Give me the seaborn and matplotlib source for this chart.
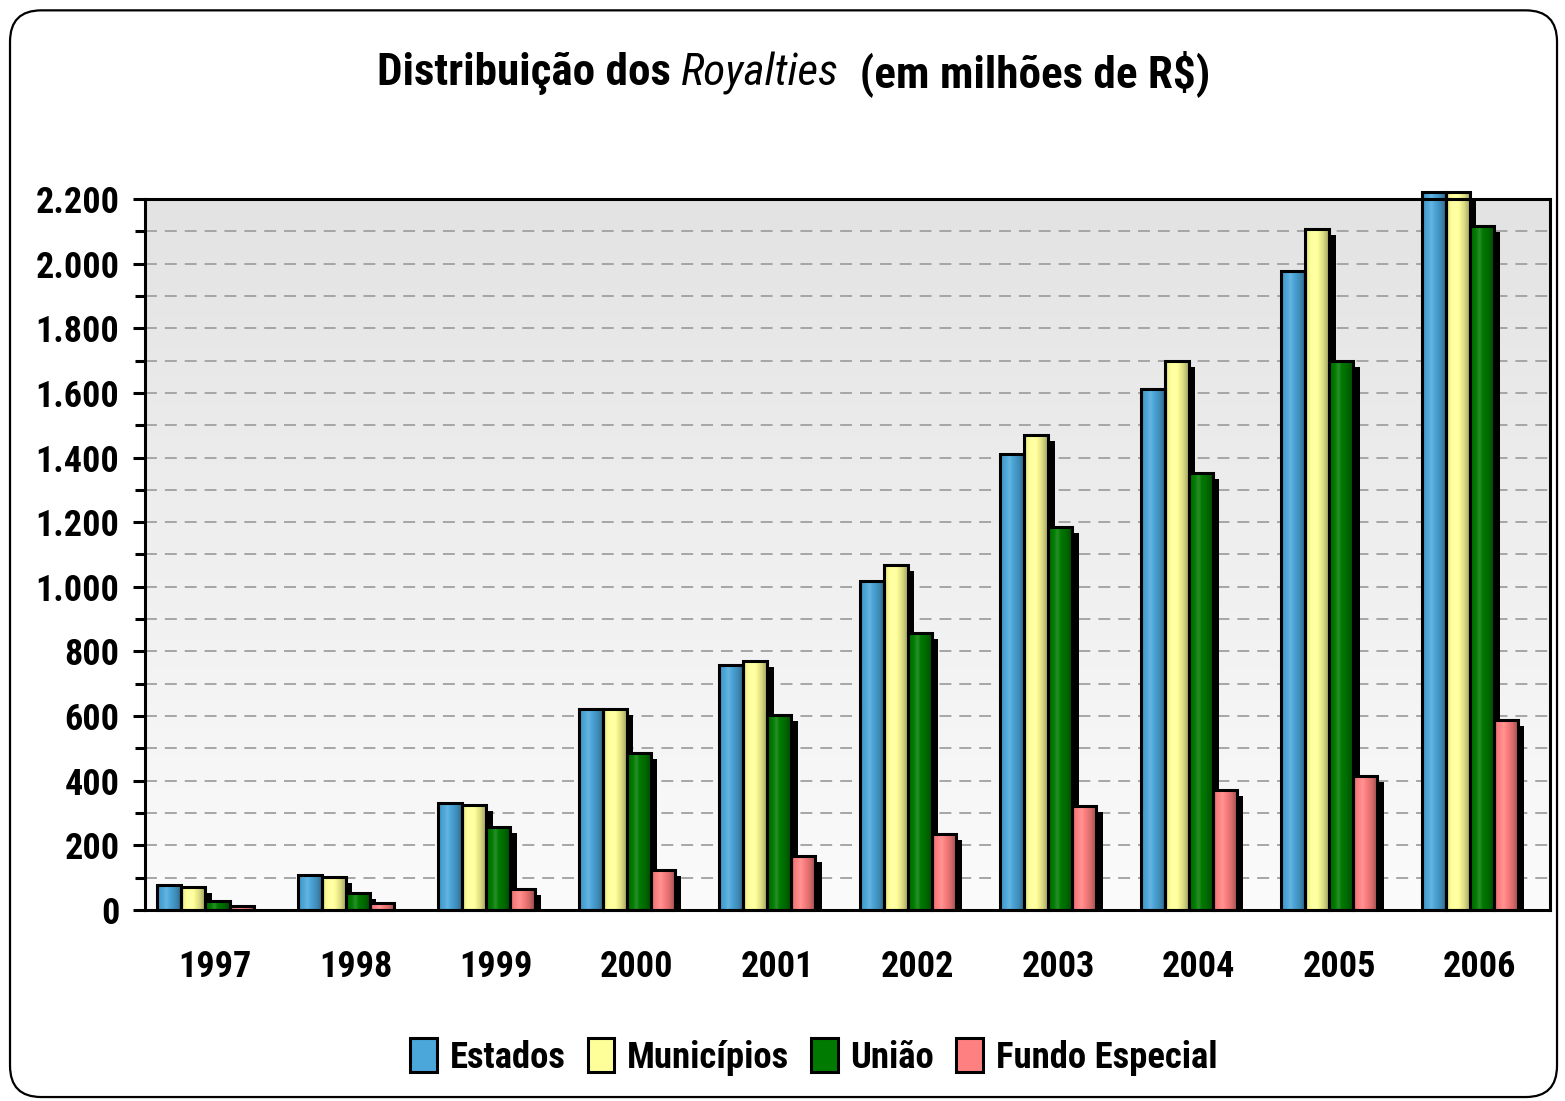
import numpy as np
import pandas as pd
import matplotlib
matplotlib.use("Agg")
import matplotlib.pyplot as plt
import seaborn as sns
from matplotlib import font_manager
from matplotlib.patches import Rectangle, Patch, FancyBboxPatch
from matplotlib.ticker import FuncFormatter, MultipleLocator, FixedLocator
from matplotlib.colors import to_rgb

# ---------------- data ----------------
years = ["1997", "1998", "1999", "2000", "2001", "2002", "2003", "2004", "2005", "2006"]
estados = [77, 108, 332, 623, 758, 1019, 1410, 1612, 1978, 2220]
municipios = [70, 101, 326, 623, 771, 1068, 1470, 1700, 2108, 2220]
uniao = [29, 54, 258, 487, 602, 856, 1184, 1353, 1700, 2116]
fundo = [13, 23, 66, 124, 167, 235, 322, 371, 415, 588]
series_names = ["Estados", "Municípios", "União", "Fundo Especial"]
colors = ["#4ba6d9", "#ffff99", "#007a00", "#ff8080"]
y_major = [0, 200, 400, 600, 800, 1000, 1200, 1400, 1600, 1800, 2000, 2200]

# ---------------- style ----------------
sns.set_theme(style="white")
entries = font_manager.fontManager.ttflist
names = {f.name for f in entries}
narrow_cands = ["Liberation Sans Narrow", "Arial Narrow", "Roboto Condensed",
                "Open Sans Condensed", "Noto Sans Condensed"]
FONT = next((c for c in narrow_cands if c in names), None)
STRETCH = "normal"
if FONT is None:
    cond = [f.name for f in entries
            if f.name in ("Liberation Sans", "Roboto", "Open Sans", "Noto Sans")
            and str(f.stretch) in ("condensed", "semi-condensed")]
    if cond:
        FONT = cond[0]
        STRETCH = "condensed"
if FONT is None:
    FONT = "Liberation Sans"
    SCALE = 0.86
else:
    SCALE = 1.0
plt.rcParams["font.family"] = [FONT, "DejaVu Sans"]
plt.rcParams["font.stretch"] = STRETCH
plt.rcParams["text.color"] = "black"

TICK_FS = 26 * SCALE
TITLE_FS = 32.5 * SCALE
LEG_FS = 26.5 * SCALE * (0.92 if SCALE < 1 else 1.0)
LEG_WEIGHT = "bold" if SCALE == 1.0 else "normal"

df = pd.DataFrame({
    "Ano": years * 4,
    "Série": np.repeat(series_names, len(years)),
    "Valor": estados + municipios + uniao + fundo,
})

fig = plt.figure(figsize=(15.65, 11.01), dpi=100)
fig.patch.set_facecolor("white")
ax = fig.add_axes([0.0927, 0.1735, 0.8977, 0.6458])

sns.barplot(data=df, x="Ano", y="Valor", hue="Série", hue_order=series_names,
            palette=colors, width=0.684, saturation=1, errorbar=None,
            legend=False, ax=ax)


def grad_img(col, n=64):
    base = np.array(to_rgb(col))
    t = np.linspace(0, 1, n)
    f = np.interp(t, [0, 0.12, 0.38, 0.75, 1.0], [0.78, 0.95, 1.08, 0.85, 0.6])[:, None]
    dark = base * f
    light = base + (1 - base) * (f - 1) * 2.0
    out = np.where(f <= 1, dark, light)
    return np.clip(out, 0, 1)[None, :, :]


shift = -0.07
dx = 0.045
dy = 18.6
for container, col in zip(ax.containers, colors):
    img = grad_img(col)
    for bar in container:
        x = bar.get_x() + shift
        w = bar.get_width()
        h = bar.get_height()
        bar.set_x(x)
        bar.set_facecolor("none")
        bar.set_edgecolor("black")
        bar.set_linewidth(2.2)
        bar.set_zorder(4)
        bar.set_clip_on(False)
        if h - dy > 0:
            ax.add_patch(Rectangle((x + dx, 0), w, h - dy, facecolor="black",
                                   edgecolor="none", zorder=2, clip_on=False))
        im = ax.imshow(img, extent=(x, x + w, 0, h), aspect="auto", zorder=3,
                       interpolation="bilinear")
        im.set_clip_on(False)

# background gradient of plot area
bg = np.linspace(0.89, 0.985, 256)[:, None] * np.ones((1, 2))
bg_rgb = np.dstack([bg, bg, bg])
ax.imshow(bg_rgb, extent=(0, 1, 0, 1), transform=ax.transAxes, aspect="auto",
          zorder=0, interpolation="bilinear", origin="upper")

ax.set_xlim(-0.5, 9.5)
ax.set_ylim(0, 2200)

# grid & ticks
ax.yaxis.set_major_locator(FixedLocator(y_major))
ax.yaxis.set_minor_locator(MultipleLocator(100))
ax.yaxis.set_major_formatter(FuncFormatter(lambda v, p: f"{v:,.0f}".replace(",", ".")))
ax.grid(which="both", axis="y", color="#a0a0a0", linestyle=(0, (6.6, 4.4)), linewidth=1.3)
ax.grid(False, axis="x")
ax.set_axisbelow(True)
ax.tick_params(axis="y", which="major", direction="out", length=8.5, width=2.2,
               color="black", labelsize=TICK_FS, pad=10, left=True, labelcolor="black")
ax.tick_params(axis="y", which="minor", direction="out", length=7, width=2.2,
               color="black", left=True)
ax.tick_params(axis="x", length=0, labelsize=TICK_FS, pad=28, labelcolor="black")
for lab in ax.get_xticklabels() + ax.get_yticklabels():
    lab.set_fontweight("bold")
for sp in ax.spines.values():
    sp.set_visible(True)
    sp.set_color("black")
    sp.set_linewidth(2.2)
    sp.set_zorder(5)
ax.set_xlabel("")
ax.set_ylabel("")

# title in mixed styles
parts = [("Distribuição dos ", "bold", "normal"),
         ("Royalties", "normal", "italic"),
         ("  (em milhões de R$)", "bold", "normal")]
fig.canvas.draw()
renderer = fig.canvas.get_renderer()
texts = []
widths = []
for s, wgt, sty in parts:
    t = fig.text(0, 0.933, s, fontsize=TITLE_FS, fontweight=wgt, fontstyle=sty,
                 ha="left", va="center", color="black")
    bb = t.get_window_extent(renderer)
    texts.append(t)
    widths.append(bb.width / fig.bbox.width)
total = sum(widths)
xpos = 0.507 - total / 2
for t, wd in zip(texts, widths):
    t.set_x(xpos)
    xpos += wd

# legend
handles = [Patch(facecolor=c, edgecolor="black", linewidth=2.2) for c in colors]
leg = fig.legend(handles, series_names, loc="center", bbox_to_anchor=(0.52, 0.04), ncol=4,
                 frameon=False,
                 prop={"size": LEG_FS, "weight": LEG_WEIGHT, "family": [FONT, "DejaVu Sans"]},
                 handlelength=0.72, handleheight=1.05, handletextpad=0.35, columnspacing=0.6)
for txt in leg.get_texts():
    txt.set_color("black")

# rounded border
border = FancyBboxPatch((0.0064, 0.0036), 0.9885, 0.987, boxstyle="round,pad=0,rounding_size=0.02",
                        mutation_aspect=1565 / 1101, transform=fig.transFigure,
                        facecolor="none", edgecolor="black", linewidth=1.6, zorder=10)
fig.patches.append(border)

fig.savefig("out.png", dpi=100)
